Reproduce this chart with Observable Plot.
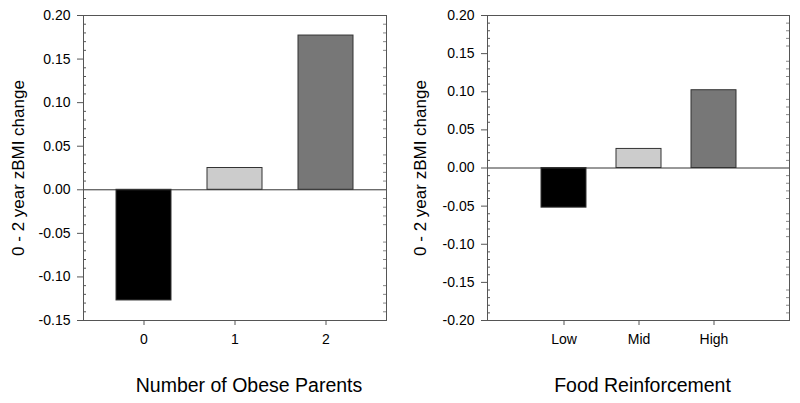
<!DOCTYPE html>
<html><head><meta charset="utf-8">
<script src="https://cdn.jsdelivr.net/npm/d3@7"></script>
<script src="https://cdn.jsdelivr.net/npm/@observablehq/plot@0.6"></script>
<style>
body{margin:0;background:#fff;font-family:"Liberation Sans",Arial,sans-serif}
#row{display:flex;width:800px;height:403px}
#row svg{display:block}
</style>
</head><body><div id="row"></div>
<script>
const parentCategories = ["0", "1", "2"];
const parentValues = [-0.127, 0.025, 0.177];
const foodCategories = ["Low", "Mid", "High"];
const foodValues = [-0.052, 0.025, 0.102];
const barColors = ["#000000", "#cccccc", "#777777"];
const yLabel = "0 - 2 year zBMI change";
const parentTitle = "Number of Obese Parents";
const foodTitle = "Food Reinforcement";
const parentYTicks = [-0.15, -0.10, -0.05, 0, 0.05, 0.10, 0.15, 0.20];
const foodYTicks = [-0.20, -0.15, -0.10, -0.05, 0, 0.05, 0.10, 0.15, 0.20];

const FONT = '"Liberation Sans", Arial, sans-serif';

function panel({cats, vals, yTicks, title, marginLeft, marginRight, paddingOuter, titleDx, labelDx}) {
  const data = cats.map((c, i) => ({cat: c, value: vals[i], color: barColors[i]}));
  const yDomain = [yTicks[0], yTicks[yTicks.length - 1]];
  const lo = Math.round(yDomain[0] * 100), hi = Math.round(yDomain[1] * 100);
  const minor = d3.range(lo, hi + 1).filter(k => k % 5 !== 0).map(k => k / 100);
  const fw = 400 - marginLeft - marginRight;
  return Plot.plot({
    width: 400, height: 403,
    marginLeft, marginRight, marginTop: 15, marginBottom: 83,
    style: {fontFamily: FONT, background: "#fff"},
    x: {domain: cats, paddingInner: 0.4, paddingOuter, label: null, axis: null},
    y: {domain: yDomain, label: null, axis: null},
    color: {type: "identity"},
    marks: [
      Plot.barY(data, {x: "cat", y: "value", fill: "color", stroke: "#333", strokeWidth: 1}),
      Plot.ruleY([0], {stroke: "#333"}),
      Plot.tickY(minor, {y: d => d, stroke: "#555", insetRight: fw - 3}),
      Plot.tickY(minor, {y: d => d, stroke: "#888", insetLeft: fw - 3}),
      Plot.frame({stroke: "#555"}),
      Plot.axisY({ticks: yTicks, tickFormat: () => "", tickSize: 6, label: null, stroke: "#555"}),
      Plot.axisX({tickFormat: () => "", tickSize: 5, label: null, stroke: "#555"}),
      Plot.text(yTicks, {y: d => d, text: d => d.toFixed(2), frameAnchor: "left", textAnchor: "end", lineAnchor: "middle", dx: -13, fontSize: 14, fontFamily: FONT, fill: "#000"}),
      Plot.text(cats, {x: d => d, text: d => d, frameAnchor: "bottom", textAnchor: "middle", lineAnchor: "middle", dy: 19, fontSize: 14, fontFamily: FONT, fill: "#000"}),
      Plot.text([yLabel], {frameAnchor: "left", textAnchor: "middle", lineAnchor: "middle", rotate: -90, dx: labelDx, fontSize: 17, fontFamily: FONT, fill: "#000"}),
      Plot.text([title], {frameAnchor: "bottom", textAnchor: "middle", lineAnchor: "middle", dy: 65, dx: titleDx, fontSize: 19.5, fontFamily: FONT, fill: "#000"})
    ]
  });
}

const row = document.getElementById("row");
row.append(panel({cats: parentCategories, vals: parentValues, yTicks: parentYTicks, title: parentTitle,
  marginLeft: 83, marginRight: 14, paddingOuter: 0.35, titleDx: 14, labelDx: -65}));
row.append(panel({cats: foodCategories, vals: foodValues, yTicks: foodYTicks, title: foodTitle,
  marginLeft: 87, marginRight: 11, paddingOuter: 0.7, titleDx: 4, labelDx: -67}));
</script>
</body></html>
